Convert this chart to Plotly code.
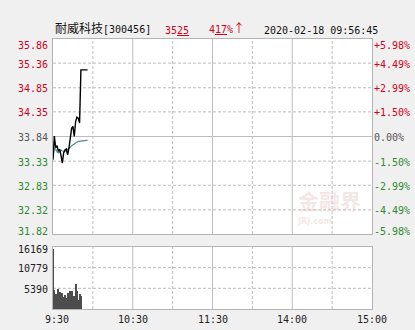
import plotly.graph_objects as go

# ---- data ----
PREV_CLOSE = 33.84
minutes = list(range(27))  # minutes since 09:30
price = [33.36, 33.85, 33.61, 33.65, 33.53, 33.58, 33.45, 33.29, 33.50, 33.56,
         33.58, 33.46, 33.60, 33.84, 34.01, 34.05, 33.84, 34.15, 34.24, 34.22,
         34.12, 35.22, 35.22, 35.22, 35.22, 35.22, 35.22]
avg_price = [33.40, 33.60, 33.58, 33.52, 33.50, 33.54, 33.56, 33.54, 33.53, 33.53,
             33.55, 33.57, 33.60, 33.62, 33.65, 33.67, 33.69, 33.71, 33.73, 33.74,
             33.74, 33.75, 33.75, 33.75, 33.76, 33.76, 33.76]
vol_minutes = list(range(22))
volume = [15600, 4900, 3800, 3300, 5200, 4500, 3900, 4300, 3200, 3600,
          2800, 4200, 2500, 4600, 4800, 2300, 3500, 6600, 4600, 2400,
          3900, 3300]

price_ticks = [35.86, 35.36, 34.85, 34.35, 33.84, 33.33, 32.83, 32.32, 31.82]
price_labels = ["35.86", "35.36", "34.85", "34.35", "33.84", "33.33", "32.83", "32.32", "31.82"]
pct_labels = ["+5.98%", "+4.49%", "+2.99%", "+1.50%", "0.00%", "-1.50%", "-2.99%", "-4.49%", "-5.98%"]
vol_ticks = [16169, 10779, 5390]
vol_labels = ["16169", "10779", "5390"]
time_ticks = [0, 60, 120, 180, 240]
time_labels = ["9:30", "10:30", "11:30", "14:00", "15:00"]
grid_minutes = [30, 60, 90, 120, 150, 180, 210]
solid_grid_minutes = [60, 120, 180]

RED = "#d0021b"
GREEN = "#2e8b2e"
GRAY = "#555555"
GRID = "#bdbdbd"
BORDER = "#b4b4b4"
MONO = "DejaVu Sans Mono"
DASH = "3px,2px"

fig = go.Figure()
fig.add_trace(go.Scatter(x=minutes, y=avg_price, mode="lines",
                         line=dict(color="#4a8c8c", width=1.2),
                         xaxis="x", yaxis="y", hoverinfo="skip"))
fig.add_trace(go.Scatter(x=minutes, y=price, mode="lines",
                         line=dict(color="#000000", width=1.4),
                         xaxis="x", yaxis="y", hoverinfo="skip"))
fig.add_trace(go.Bar(x=vol_minutes, y=volume, marker=dict(color="#4d4d4d", line=dict(width=0)),
                     width=0.75, xaxis="x2", yaxis="y2", hoverinfo="skip"))

shapes = []
# vertical grid lines in both panels
for m in grid_minutes:
    dash = "solid" if m in solid_grid_minutes else DASH
    for xr, yr in (("x", "y domain"), ("x2", "y2 domain")):
        shapes.append(dict(type="line", xref=xr, yref=yr, x0=m, x1=m, y0=0, y1=1,
                           line=dict(color=GRID, width=1, dash=dash), layer="below"))
# horizontal grid lines main panel
for v in price_ticks[1:-1]:
    dash = "solid" if v == PREV_CLOSE else DASH
    shapes.append(dict(type="line", xref="x domain", yref="y", x0=0, x1=1, y0=v, y1=v,
                       line=dict(color=GRID, width=1, dash=dash), layer="below"))
for v in vol_ticks[1:]:
    shapes.append(dict(type="line", xref="x2 domain", yref="y2", x0=0, x1=1, y0=v, y1=v,
                       line=dict(color=GRID, width=1, dash=DASH), layer="below"))

annotations = []
n = len(price_ticks)
for i, (v, lab, pl) in enumerate(zip(price_ticks, price_labels, pct_labels)):
    col = RED if v > PREV_CLOSE else (GRAY if v == PREV_CLOSE else GREEN)
    shift = -6 if i == 0 else (3 if i == n - 1 else -1)
    annotations.append(dict(xref="paper", yref="y", x=0, y=v, text=lab, showarrow=False,
                            xanchor="right", yanchor="middle", xshift=-3, yshift=shift,
                            font=dict(family=MONO, size=10, color=col)))
    annotations.append(dict(xref="paper", yref="y", x=1, y=v, text=pl, showarrow=False,
                            xanchor="left", yanchor="middle", xshift=0, yshift=shift,
                            font=dict(family=MONO, size=10, color=col)))
for i, (v, lab) in enumerate(zip(vol_ticks, vol_labels)):
    shift = -2 if i == 0 else -1
    annotations.append(dict(xref="paper", yref="y2", x=0, y=v, text=lab, showarrow=False,
                            xanchor="right", yanchor="middle", xshift=-3, yshift=shift,
                            font=dict(family=MONO, size=10, color="#222222")))
for i, (t, lab) in enumerate(zip(time_ticks, time_labels)):
    annotations.append(dict(xref="x2", yref="paper", x=t, y=0, text=lab, showarrow=False,
                            xanchor="center", yanchor="top", yshift=-3,
                            xshift=4 if i == 0 else 0,
                            font=dict(family=MONO, size=10, color="#222222")))
# header
annotations.append(dict(xref="paper", yref="paper", x=0, y=1, xanchor="left", yanchor="bottom",
                        yshift=1, showarrow=False,
                        text="<span style='font-family:Noto Sans CJK SC;font-size:12px'>耐威科技</span>[300456]",
                        font=dict(family=MONO, size=10, color="#111111")))
annotations.append(dict(xref="paper", yref="paper", x=(163 - 53) / 319, y=1, xanchor="left",
                        yanchor="bottom", yshift=1, showarrow=False, text="35<u>25</u>",
                        font=dict(family=MONO, size=10, color=RED)))
annotations.append(dict(xref="paper", yref="paper", x=(207 - 53) / 319, y=1, xanchor="left",
                        yanchor="bottom", yshift=1, showarrow=False,
                        text="4<u>17</u>%<span style='font-family:Noto Sans CJK SC;font-size:12px'>↑</span>",
                        font=dict(family=MONO, size=10, color=RED)))
annotations.append(dict(xref="paper", yref="paper", x=(262 - 53) / 319, y=1, xanchor="left",
                        yanchor="bottom", yshift=1, showarrow=False, text="2020-02-18 09:56:45",
                        font=dict(family=MONO, size=10, color="#111111")))
# watermark
annotations.append(dict(xref="x", yref="y", x=208, y=32.52, text="<b>金融界</b>", showarrow=False,
                        yanchor="middle",
                        font=dict(family="Noto Sans CJK SC", size=21, color="rgba(225,185,185,0.35)")))
annotations.append(dict(xref="x", yref="y", x=197, y=32.08, text="<b>JRJ.com</b>", showarrow=False,
                        yanchor="middle",
                        font=dict(family="DejaVu Sans", size=8, color="rgba(225,185,185,0.35)")))

axis_common = dict(showgrid=False, zeroline=False, showline=True, mirror=True,
                   linecolor=BORDER, linewidth=1, ticks="", showticklabels=False, fixedrange=True)

fig.update_layout(
    width=415, height=330,
    margin=dict(l=53, r=43, t=39, b=21),
    paper_bgcolor="#f1f0f0", plot_bgcolor="#ffffff",
    showlegend=False, bargap=0,
    xaxis=dict(range=[0, 240], domain=[0, 1], anchor="y", **axis_common),
    yaxis=dict(range=[31.82, 35.86], domain=[(309 - 234) / 270, 1], anchor="x", **axis_common),
    xaxis2=dict(range=[0, 240], domain=[0, 1], anchor="y2", **axis_common),
    yaxis2=dict(range=[0, 16169], domain=[0, (309 - 247) / 270], anchor="x2", **axis_common),
    shapes=shapes, annotations=annotations,
)

fig.write_html("out.html")
